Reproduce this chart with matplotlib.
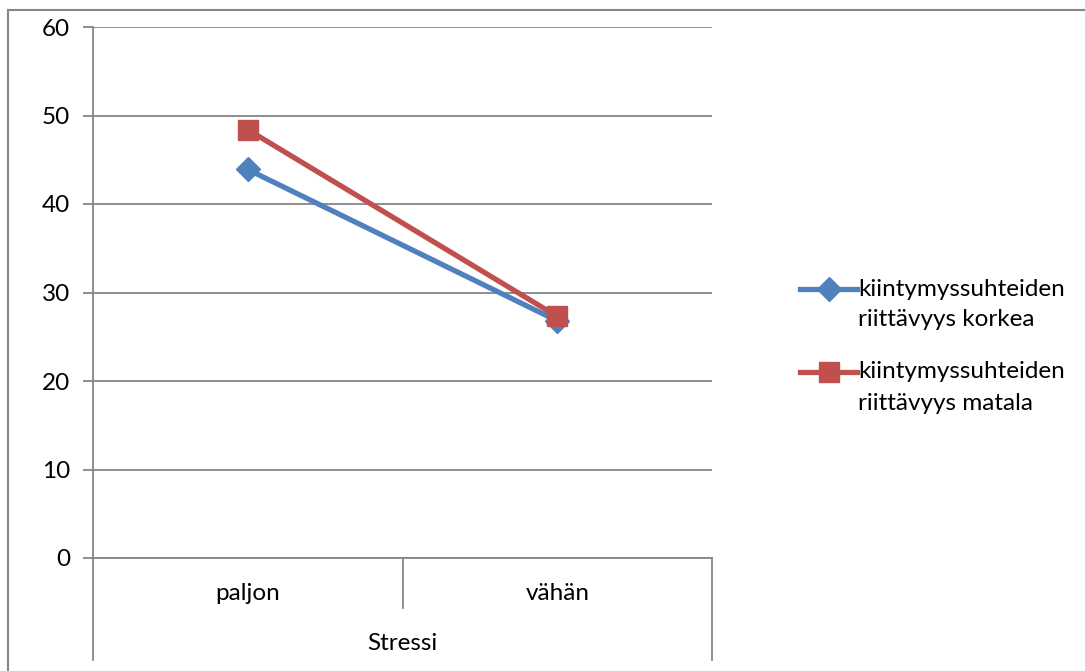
import matplotlib.pyplot as plt
from matplotlib.lines import Line2D
import matplotlib.transforms as mtransforms

# data
categories = ['paljon', 'vähän']
korkea = [43.9, 26.8]
matala = [48.4, 27.3]
series_names = [['kiintymyssuhteiden', 'riittävyys korkea'],
                ['kiintymyssuhteiden', 'riittävyys matala']]
axis_title = 'Stressi'

W, H = 1085, 671
blue = '#4F81BD'
red = '#C0504D'
grey = '#868686'

plt.rcParams['font.family'] = ['Lato', 'DejaVu Sans']
fs = 17.5

fig = plt.figure(figsize=(W / 100, H / 100), dpi=100)

# plot area in pixels
left, right, top, bottom = 93, 712, 27, 558
ax = fig.add_axes([left / W, 1 - bottom / H, (right - left) / W, (bottom - top) / H])

x = list(range(len(categories)))
ax.plot(x, korkea, color=blue, lw=3.8, marker='D', ms=12.5, mfc=blue, mec=blue, zorder=3)
ax.plot(x, matala, color=red, lw=3.8, marker='s', ms=14.5, mfc=red, mec=red, zorder=4)

ax.set_xlim(-0.5, len(categories) - 0.5)
ax.set_ylim(0, 60)
ax.set_yticks(range(0, 61, 10))
ax.yaxis.grid(True, color=grey, lw=1.3)
ax.set_axisbelow(True)
for s in ['top', 'right']:
    ax.spines[s].set_visible(False)
for s in ['left', 'bottom']:
    ax.spines[s].set_color(grey)
    ax.spines[s].set_linewidth(1.3)
ax.tick_params(axis='y', length=7, width=1.3, color=grey, pad=9.5, labelsize=fs)
ax.set_xticks([])

# category axis: separators and labels
trans = mtransforms.blended_transform_factory(ax.transData, ax.transAxes)
ph = bottom - top
short = -(608 - bottom) / ph
long_ = -(660 - bottom) / ph
edges = [i - 0.5 for i in range(len(categories) + 1)]
for i, e in enumerate(edges):
    yend = long_ if i in (0, len(edges) - 1) else short
    ax.add_line(Line2D([e, e], [0, yend], transform=trans, color=grey, lw=1.3, clip_on=False))
for xi, c in zip(x, categories):
    ax.text(xi, -(593 - bottom) / ph, c, transform=trans, ha='center', va='center', fontsize=fs)
ax.text(sum(x) / len(x), -(643 - bottom) / ph, axis_title,
        transform=trans, ha='center', va='center', fontsize=fs)

# legend drawn by hand so the handle sits on the first text line
leg_y = [289, 372]
styles = [(blue, 'D', 12.5), (red, 's', 14.5)]
for lines, (col, mk, msz), yy in zip(series_names, styles, leg_y):
    fy = 1 - yy / H
    fig.add_artist(Line2D([800 / W, 857 / W], [fy, fy], color=col, lw=3.8,
                          transform=fig.transFigure))
    fig.add_artist(Line2D([828.5 / W], [fy], color=col, marker=mk, ms=msz, lw=0,
                          transform=fig.transFigure))
    for k, t in enumerate(lines):
        fig.text(858 / W, 1 - (yy + 31 * k) / H, t, ha='left', va='center', fontsize=fs)

# outer chart frame
fig.add_artist(Line2D([8 / W, 1], [1 - 10 / H, 1 - 10 / H], color=grey, lw=1.5,
                      transform=fig.transFigure))
fig.add_artist(Line2D([8 / W, 8 / W], [1 - 10 / H, 0], color=grey, lw=1.5,
                      transform=fig.transFigure))

fig.savefig('out.png', dpi=100)
